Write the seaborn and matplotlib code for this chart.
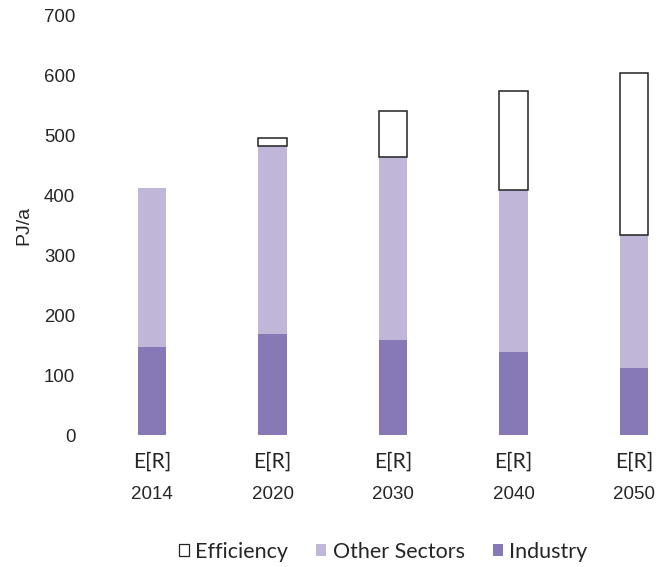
import matplotlib
matplotlib.use("Agg")
import matplotlib.pyplot as plt
from matplotlib.patches import Patch
from matplotlib.transforms import blended_transform_factory
import numpy as np
import pandas as pd
import seaborn as sns

# Final energy demand by sector, E[R] scenario (PJ/a)
years = ["2014", "2020", "2030", "2040", "2050"]
scenario = "E[R]"
industry = [147, 169, 159, 139, 112]
other_sectors = [265, 313, 305, 270, 222]
efficiency = [0, 15, 77, 165, 270]
y_ticks = [0, 100, 200, 300, 400, 500, 600, 700]

c_industry = "#8679B6"
c_other = "#C0B6D8"

df = pd.DataFrame({
    "year": years,
    "industry": industry,
    "other": other_sectors,
    "efficiency": efficiency,
})
df["other_base"] = df["industry"]
df["eff_base"] = df["industry"] + df["other"]

sns.set_theme(style="white")
plt.rcParams["font.family"] = ["Liberation Sans", "DejaVu Sans"]

fig = plt.figure(figsize=(6.72, 5.67), dpi=100)
ax = fig.add_axes([0.1265, 0.2328, 0.8735, 0.739])

bw = 0.235
sns.barplot(data=df, x="year", y="industry", order=years, color=c_industry,
            width=bw, saturation=1, linewidth=0, ax=ax)
sns.barplot(data=df, x="year", y="other", order=years, color=c_other,
            width=bw, saturation=1, linewidth=0, bottom=df["other_base"].values, ax=ax)
eff = df[df["efficiency"] > 0]
sns.barplot(data=eff, x="year", y="efficiency", order=years, color="white",
            width=bw, saturation=1, edgecolor="#222222", linewidth=1.1,
            bottom=eff["eff_base"].values, ax=ax)

ax.set_ylim(0, 700)
ax.set_yticks(y_ticks)
ax.set_xlim(-0.556, 4.315)
ax.set_xticks(range(len(years)))
ax.set_xticklabels([scenario] * len(years), fontsize=15.2, family=["Lato", "DejaVu Sans"])
ax.tick_params(axis="x", length=0, pad=12)
ax.tick_params(axis="y", length=0, pad=7, labelsize=13.4)
for s in ax.spines.values():
    s.set_visible(False)
ax.set_xlabel("")
ax.set_ylabel("PJ/a", fontsize=14, labelpad=8)

trans = blended_transform_factory(ax.transData, ax.transAxes)
for i, yr in enumerate(years):
    ax.text(i, -0.143, yr, transform=trans, ha="center", va="center", fontsize=13.5)

handles = [
    Patch(facecolor="white", edgecolor="#222222", linewidth=0.9, label="Efficiency"),
    Patch(facecolor=c_other, edgecolor="none", label="Other Sectors"),
    Patch(facecolor=c_industry, edgecolor="none", label="Industry"),
]
fig.legend(handles=handles, loc="center", bbox_to_anchor=(0.57, 0.027), ncol=3,
           frameon=False, handlelength=0.47, handleheight=0.47, handletextpad=0.3,
           columnspacing=1.3, prop={"family": ["Lato", "DejaVu Sans"], "size": 15.5})

fig.savefig("out.png", dpi=100)
